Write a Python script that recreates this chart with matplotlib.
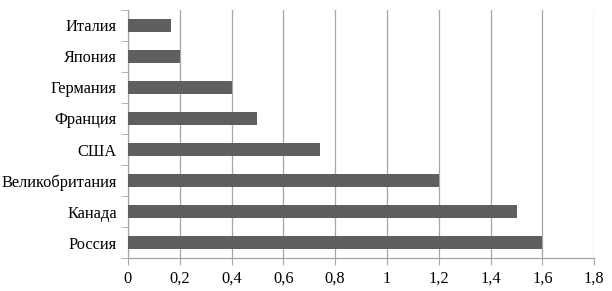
import matplotlib.pyplot as plt
from matplotlib.ticker import FuncFormatter, FixedLocator
import numpy as np

countries = ['Россия', 'Канада', 'Великобритания', 'США', 'Франция', 'Германия', 'Япония', 'Италия']
values = [1.6, 1.5, 1.2, 0.74, 0.5, 0.4, 0.2, 0.165]
xticks = [0, 0.2, 0.4, 0.6, 0.8, 1.0, 1.2, 1.4, 1.6, 1.8]

plt.rcParams['font.family'] = ['Liberation Serif', 'DejaVu Serif']

fig = plt.figure(figsize=(6.12, 2.91), dpi=100)
ax = fig.add_axes([0.209, 0.113, 0.762, 0.853])

y = np.arange(len(countries))
ax.barh(y, values, height=0.4, color='#5f5f5f', zorder=3)

ax.set_xlim(0, 1.8)
ax.set_ylim(-0.5, len(countries) - 0.5)
ax.set_xticks(xticks)
ax.xaxis.set_major_formatter(FuncFormatter(lambda v, p: ('%g' % v).replace('.', ',')))
ax.set_yticks(y)
ax.set_yticklabels(countries)
ax.yaxis.set_minor_locator(FixedLocator(np.arange(-0.5, len(countries), 1)))

ax.grid(axis='x', color='#a6a6a6', linewidth=0.9, zorder=0)
for s in ['top', 'right']:
    ax.spines[s].set_visible(False)
for s in ['left', 'bottom']:
    ax.spines[s].set_color('#a6a6a6')
    ax.spines[s].set_linewidth(0.9)

ax.tick_params(axis='y', which='major', length=0, pad=8, labelsize=11.8)
ax.tick_params(axis='y', which='minor', length=5, color='#a6a6a6')
ax.tick_params(axis='x', length=5, color='#a6a6a6', labelsize=11.8, pad=4)

fig.savefig('out.png', dpi=100)
